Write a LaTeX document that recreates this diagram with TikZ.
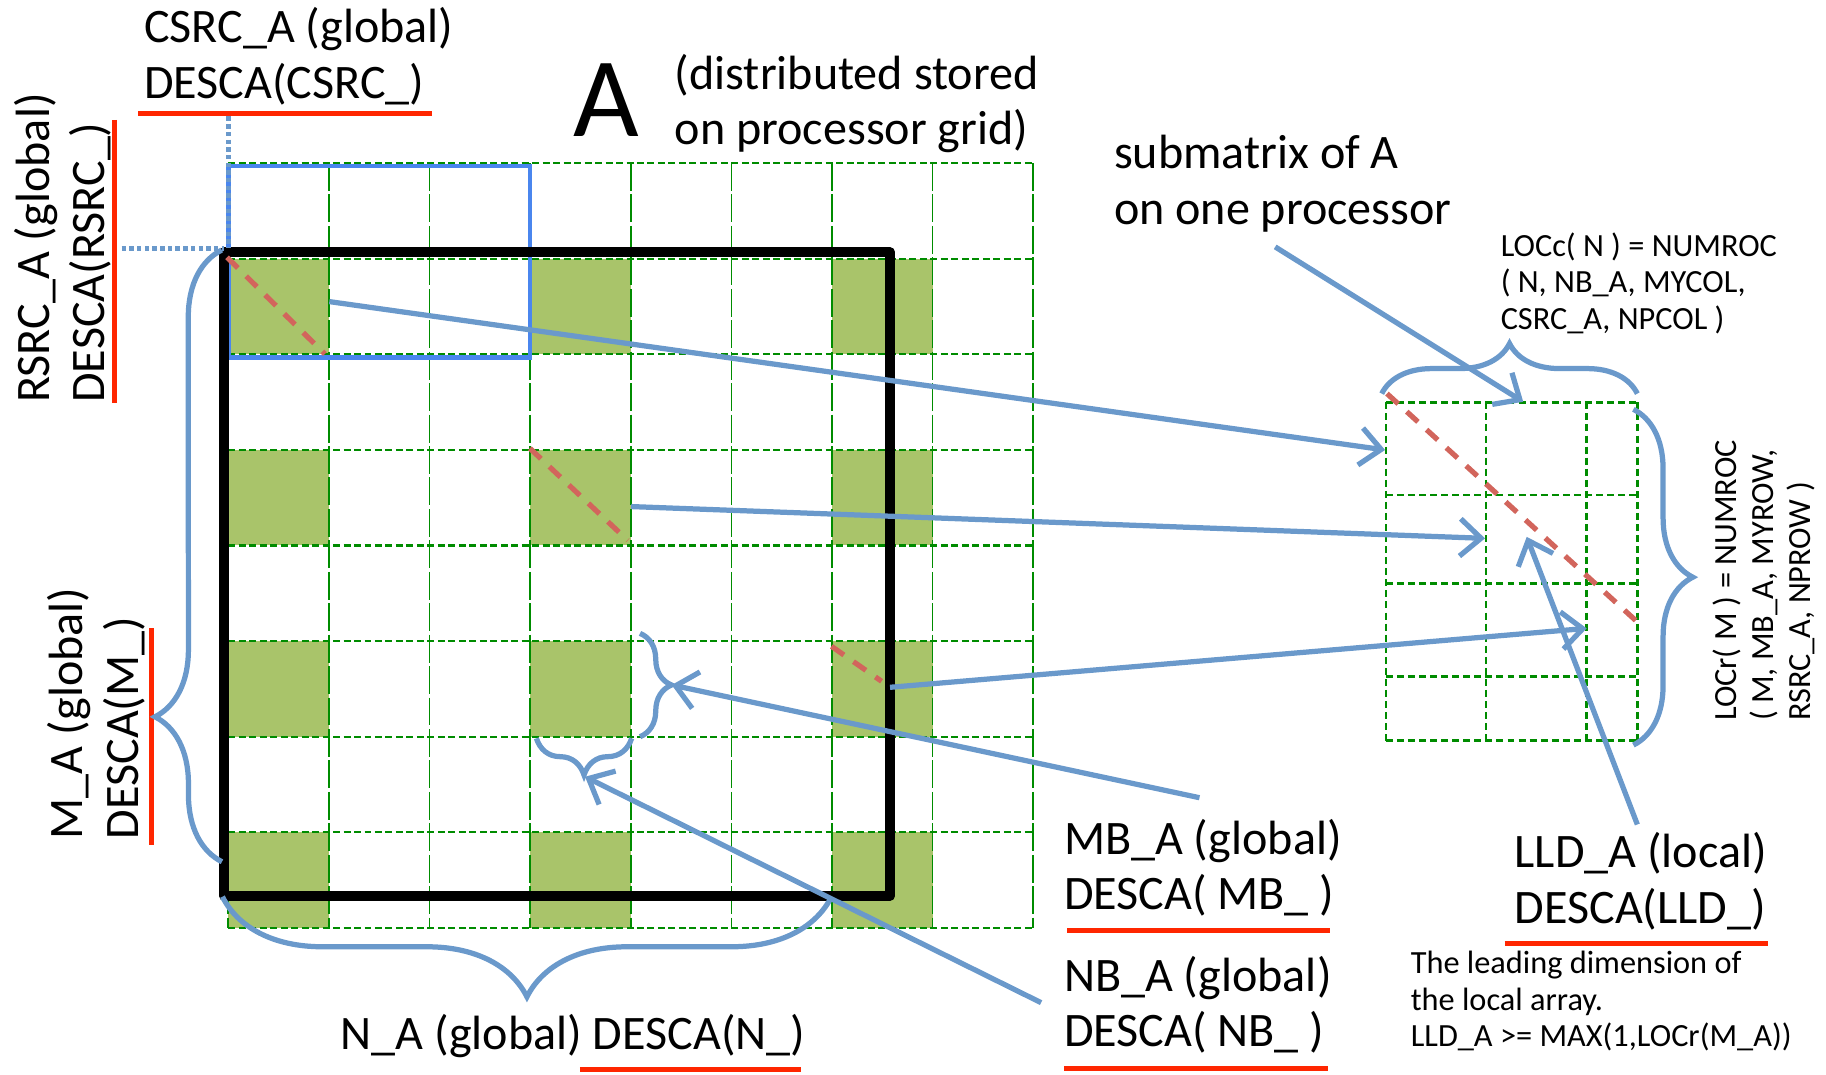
\documentclass[tikz,border=0pt]{standalone}
\usepackage{fontspec}
\setmainfont{Carlito}
\usetikzlibrary{arrows.meta,decorations.pathreplacing}
\definecolor{ppblue}{RGB}{106,153,203}
\definecolor{rectblue}{RGB}{74,134,238}
\definecolor{blockgreen}{RGB}{169,196,106}
\definecolor{gridgreen}{RGB}{0,140,0}
\definecolor{ulred}{RGB}{255,38,0}
\definecolor{diagred}{RGB}{210,101,92}

\begin{document}
\begin{tikzpicture}[x=0.1mm,y=-0.1mm,
    big/.style={font=\fontsize{11.75}{13.6}\selectfont,inner sep=0pt,align=left,anchor=base west},
    small/.style={font=\fontsize{7.9}{8.95}\selectfont,inner sep=0pt,align=left,anchor=base west},
    conn/.style={ppblue,line width=0.45mm,-{Straight Barb[length=1.8mm,width=3.2mm]}},
    curly/.style={ppblue,line width=0.45mm,decorate},
    uline/.style={ulred,line width=0.43mm},
    gridv/.style={gridgreen,line width=0.14mm,dash pattern=on 2.4mm off 0.3mm},
    gridh/.style={gridgreen,line width=0.18mm,dash pattern=on 0.6mm off 0.3mm},
    locgrid/.style={gridgreen,line width=0.22mm,dash pattern=on 0.6mm off 0.35mm},
    diag/.style={diagred,line width=0.45mm,dash pattern=on 1.3mm off 1mm},
    dots/.style={ppblue,line width=0.4mm,dash pattern=on 0.38mm off 0.28mm}]

    \useasboundingbox (0,0) rectangle (1568,923);

    \foreach \c in {0,3,6}
        \foreach \r in {1,3,5,7}
            \fill[blockgreen] (196+86.4*\c,140+82.1*\r) rectangle ++(86.4,82.1);
    \foreach \i in {0,...,8}
        \draw[gridv] (196+86.4*\i,140) -- (196+86.4*\i,796.8);
    \foreach \j in {0,...,8}
        \draw[gridh] (196,140+82.1*\j) -- (887.2,140+82.1*\j);

    \foreach \x in {1190,1276,1362.5,1406}
        \draw[locgrid] (\x,345.5) -- (\x,636);
    \foreach \y in {345.5,425,501,581,636}
        \draw[locgrid] (1190,\y) -- (1406,\y);

    \coordinate (Atl) at (192.6,216.7);
    \coordinate (Abr) at (764.3,769.2);
    \coordinate (Ptl) at (196,142.5);
    \coordinate (Pbr) at (455.2,307);

    \draw[rectblue,line width=0.4mm] (Ptl) rectangle (Pbr);
    \draw[line width=0.86mm,line join=round] (Atl) rectangle (Abr);

    \draw[diag] (195,221) -- (279,304);
    \draw[diag] (455,385) -- (539,464);
    \draw[diag] (714,555) -- (757,585);
    \draw[diag] (1191,338) -- (1407,535);

    \node[big] (csrcA) at (123,84.4) {CSRC\_A (global)\\DESCA(CSRC\_)};
    \node[big,rotate=90] (rsrcA) at (90,346.4) {RSRC\_A (global)\\DESCA(RSRC\_)};
    \node[big,rotate=90] (mA) at (119,721.3) {M\_A (global)\\DESCA(M\_)};
    \node[big] (nA) at (291.8,901) {N\_A (global) DESCA(N\_)};
    \node[inner sep=0pt,anchor=base west,font=\fontsize{27.7}{30}\selectfont] (bigA) at (492,117.4) {A};
    \node[big] (distr) at (578.8,124.5) {(distributed stored\\on processor grid)};
    \node[big] (submat) at (956,192.4) {submatrix of A\\on one processor};
    \node[small] (loccN) at (1288,283) {LOCc( N ) = NUMROC\\( N, NB\_A, MYCOL,\\CSRC\_A, NPCOL )};
    \node[small,rotate=90] (locrM) at (1554.3,619.7) {LOCr( M ) = NUMROC\\( M, MB\_A, MYROW,\\RSRC\_A, NPROW )};
    \node[big] (mbA) at (913,781.4) {MB\_A (global)\\DESCA( MB\_ )};
    \node[big] (nbA) at (913,898.8) {NB\_A (global)\\DESCA( NB\_ )};
    \node[big] (lldA) at (1300,792.9) {LLD\_A (local)\\DESCA(LLD\_)};
    \node[small] (lldnote) at (1210.8,898.8) {The leading dimension of\\the local array.\\LLD\_A >= MAX(1,LOCr(M\_A))};

    \draw[uline] (118.8,97.3) -- (370.8,97.3);
    \draw[uline] (98,103) -- (98,346);
    \draw[uline] (129.8,539.6) -- (129.8,725.6);
    \draw[uline] (498,918) -- (688,918);
    \draw[uline] (916.6,799.2) -- (1142.4,799.2);
    \draw[uline] (914,917.4) -- (1140,917.4);
    \draw[uline] (1292,810) -- (1518,810);

    \draw[dots] (196,100) -- (196,213.3);
    \draw[dots] (104.5,213.3) -- (192.6,213.3);

    \coordinate (mbot) at (190.6,740);
    \coordinate (mtop) at (190.4,214.7);
    \coordinate (nleft) at (191,770);
    \coordinate (nright) at (714,770);
    \coordinate (mbtop) at (549.6,543.9);
    \coordinate (mbbot) at (549.6,632.6);
    \coordinate (nbleft) at (460.6,634);
    \coordinate (nbright) at (542.4,634);
    \coordinate (lcleft) at (1186.5,338);
    \coordinate (lcright) at (1406,338);
    \coordinate (lrtop) at (1402.6,351.5);
    \coordinate (lrbot) at (1402.6,639.8);

    \draw[curly,decoration={brace,amplitude=5.75mm,aspect=0.237}] (mbot) -- (mtop);
    \draw[curly,decoration={brace,amplitude=8.6mm,aspect=0.5}] (nright) -- (nleft);
    \draw[curly,decoration={brace,amplitude=2.7mm,aspect=0.5}] (mbtop) -- (mbbot);
    \draw[curly,decoration={brace,amplitude=3.15mm,aspect=0.5}] (nbright) -- (nbleft);
    \draw[curly,decoration={brace,amplitude=4.3mm,aspect=0.5}] (lcleft) -- (lcright);
    \draw[curly,decoration={brace,amplitude=5.1mm,aspect=0.5}] (lrtop) -- (lrbot);

    \coordinate (blk1) at (282.8,259);
    \coordinate (blk2) at (542,435);
    \coordinate (blk3) at (764.3,590.2);
    \coordinate (loc1) at (1189.4,386.4);
    \coordinate (loc2) at (1275.2,462.3);
    \coordinate (loc3) at (1362.5,539.6);
    \coordinate (loctop) at (1308,345);
    \coordinate (locdiag) at (1311,461);
    \coordinate (mbtip) at (576.8,588.2);
    \coordinate (nbtip) at (502.4,667);
    \coordinate (subfrom) at (1095,212);
    \coordinate (mbfrom) at (1030,685);
    \coordinate (nbfrom) at (894,861);
    \coordinate (lldfrom) at (1406,708);

    \draw[conn] (blk1) -- (loc1);
    \draw[conn] (blk2) -- (loc2);
    \draw[conn] (blk3) -- (loc3);
    \draw[conn] (subfrom) -- (loctop);
    \draw[conn] (lldfrom) -- (locdiag);
    \draw[conn] (mbfrom) -- (mbtip);
    \draw[conn] (nbfrom) -- (nbtip);
\end{tikzpicture}
\end{document}
